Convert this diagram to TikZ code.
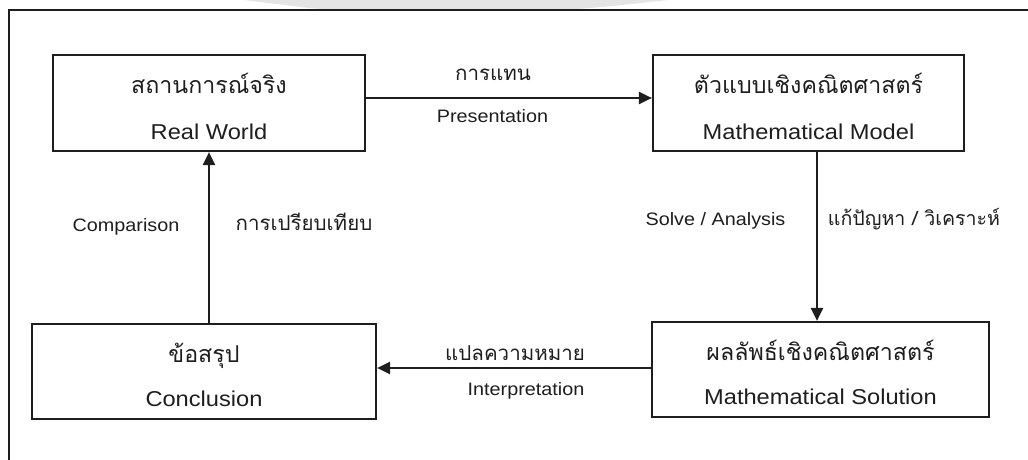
\documentclass[tikz,border=0pt]{standalone}
\usepackage{fontspec}
\setmainfont{Liberation Sans}[FakeStretch=1.1]
\newfontfamily\thai[Script=Thai]{Loma}
\usetikzlibrary{arrows.meta,calc}
\definecolor{ink}{HTML}{1E1E1E}
\definecolor{haze}{HTML}{E4E4E4}

\begin{document}
\begin{tikzpicture}[x=1pt,y=-1pt,
  box/.style={draw=ink, line width=2.2pt, rectangle, inner sep=0pt},
  arr/.style={draw=ink, line width=2.2pt, -{Triangle[length=13pt,width=12pt]}},
  frame/.style={draw=ink, line width=2pt},
  thtxt/.style={font=\thai\fontsize{23.2}{27}\selectfont, text=ink, anchor=base, inner sep=0pt},
  entxt/.style={font=\fontsize{21.5}{26}\selectfont, text=ink, anchor=base, inner sep=0pt},
  thlab/.style={font=\thai\fontsize{20.5}{24}\selectfont, text=ink, anchor=base, inner sep=0pt},
  enlab/.style={font=\fontsize{18}{22}\selectfont, text=ink, anchor=base, inner sep=0pt}]

\useasboundingbox (0,0) rectangle (1028,460);
\fill[white] (0,0) rectangle (1028,460);

% faint band along the top edge
\fill[haze] (243,0) .. controls (280,4) and (310,9) .. (335,10) -- (560,10)
  .. controls (600,8) and (640,3) .. (668,0) -- cycle;

% outer frame
\draw[frame] (9,460) -- (9,10) -- (1028,10);

% the four stages
\node[box, minimum width=312pt, minimum height=96pt] (real)  at (209,103)   {};
\node[box, minimum width=311pt, minimum height=96pt] (model) at (808.5,103) {};
\node[box, minimum width=344pt, minimum height=95pt] (concl) at (204,371.5) {};
\node[box, minimum width=337pt, minimum height=95pt] (sol)   at (820.5,369.5) {};

\node[thtxt] (realth)  at ($(real.north)+(0,40)$)  {สถานการณ์จริง};
\node[entxt] (realen)  at ($(real.north)+(0,86)$)  {Real World};
\node[thtxt] (modelth) at ($(model.north)+(0,40)$) {ตัวแบบเชิงคณิตศาสตร์};
\node[entxt] (modelen) at ($(model.north)+(0,86)$) {Mathematical Model};
\node[thtxt] (conclth) at ($(concl.north)+(0,40)$) {ข้อสรุป};
\node[entxt] (conclen) at ($(concl.north)+(0,84)$) {Conclusion};
\node[thtxt] (solth)   at ($(sol.north)+(0,40)$)   {ผลลัพธ์เชิงคณิตศาสตร์};
\node[entxt] (solen)   at ($(sol.north)+(0,84)$)   {Mathematical Solution};

% connectors
\coordinate (ytop)   at (0,98);
\coordinate (xright) at (817,0);
\coordinate (ybot)   at (0,368);
\coordinate (xleft)  at (209,0);
\draw[arr] (real.east |- ytop) -- (model.west |- ytop);
\draw[arr] (model.south -| xright) -- (sol.north -| xright);
\draw[arr] (sol.west |- ybot) -- (concl.east |- ybot);
\draw[arr] (concl.north -| xleft) -- (real.south -| xleft);

% connector labels
\node[thlab] (lrep)     at (493,81)    {การแทน};
\node[enlab] (lrepen)   at (492.5,122) {Presentation};
\node[enlab] (lcmp)     at (126,231)   {Comparison};
\node[thlab] (lcmpth)   at (304,230)   {การเปรียบเทียบ};
\node[enlab] (lsolve)   at (715.5,225) {Solve / Analysis};
\node[thlab, font=\thai\fontsize{19.6}{23}\selectfont] (lsolveth) at (914,225) {แก้ปัญหา / วิเคราะห์};
\node[thlab] (lint)     at (515,360)   {แปลความหมาย};
\node[enlab] (linten)   at (526,395)   {Interpretation};
\end{tikzpicture}
\end{document}
